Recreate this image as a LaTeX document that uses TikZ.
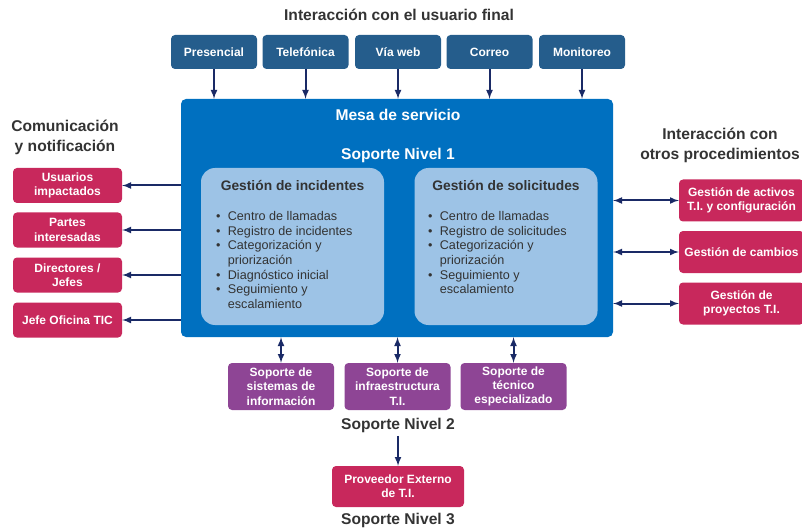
\documentclass[tikz,border=0pt]{standalone}
\usepackage{fontspec}
\setmainfont{Liberation Sans}
\usepackage{tikz}

\definecolor{chanblue}{HTML}{255D8C}
\definecolor{mesablue}{HTML}{0070C0}
\definecolor{innerblue}{HTML}{9DC3E6}
\definecolor{crimson}{HTML}{C8285C}
\definecolor{sopviolet}{HTML}{8E4595}
\definecolor{navy}{HTML}{1A2A66}
\definecolor{darktext}{HTML}{333333}

\newcommand{\vineta}[1]{\makebox[11.7pt][l]{\textbullet}#1}
\newcommand{\sigue}[1]{\hspace*{11.7pt}#1}

\tikzset{
  box/.style={rounded corners=4pt,text=white,align=center,inner sep=2pt,
    font=\bfseries\fontsize{12}{14.3}\selectfont},
  chan/.style={box,fill=chanblue,minimum width=86pt,minimum height=34pt},
  notif/.style={box,fill=crimson,minimum width=109pt,minimum height=35pt},
  proc/.style={box,fill=crimson,minimum width=125pt,minimum height=42pt},
  sop/.style={box,fill=sopviolet,minimum width=106pt,minimum height=47pt},
  prov/.style={box,fill=crimson,minimum width=132pt,minimum height=41pt},
  ttl/.style={text=darktext,align=center,font=\bfseries\fontsize{15.6}{20}\selectfont},
  inner/.style={fill=innerblue,rounded corners=14pt,minimum width=183pt,minimum height=157pt},
  head/.style={text=darktext,font=\bfseries\fontsize{13.8}{16}\selectfont},
  lista/.style={text=darktext,align=left,inner sep=0pt,anchor=north west,
    font=\fontsize{12.6}{14.7}\selectfont},
  arr/.style={draw=navy,line width=2pt,-latex},
  darr/.style={draw=navy,line width=2pt,latex-latex}
}

\begin{document}
\begin{tikzpicture}[x=1pt,y=-1pt]
  \useasboundingbox (0,0) rectangle (802,529);

  % Interaccion con el usuario final
  \node[ttl] (tusr) at (399,15) {Interacción con el usuario final};
  \node[chan] (c1) at (214,52) {Presencial};
  \node[chan] (c2) at (305.5,52) {Telefónica};
  \node[chan] (c3) at (398,52) {Vía web};
  \node[chan] (c4) at (489.5,52) {Correo};
  \node[chan] (c5) at (582,52) {Monitoreo};

  % Mesa de servicio
  \node[fill=mesablue,rounded corners=5pt,minimum width=432pt,minimum height=238pt] (mesa) at (397,218) {};
  \node[ttl,text=white] (tmesa) at (398,115) {Mesa de servicio};
  \node[ttl,text=white] (n1) at (398,155) {Soporte Nivel 1};

  \node[inner] (inc) at (292.5,246.5) {};
  \node[inner] (sol) at (506,246.5) {};
  \node[head] (tinc) at (292.5,186) {Gestión de incidentes};
  \node[head] (tsol) at (506,186) {Gestión de solicitudes};
  \node[lista] (linc) at (216,211) {\vineta{Centro de llamadas}\\
    \vineta{Registro de incidentes}\\ \vineta{Categorización y}\\
    \sigue{priorización}\\ \vineta{Diagnóstico inicial}\\
    \vineta{Seguimiento y}\\ \sigue{escalamiento}};
  \node[lista] (lsol) at (428,211) {\vineta{Centro de llamadas}\\
    \vineta{Registro de solicitudes}\\ \vineta{Categorización y}\\
    \sigue{priorización}\\ \vineta{Seguimiento y}\\ \sigue{escalamiento}};

  % Comunicacion y notificacion
  \node[ttl] (tcom) at (65,137) {Comunicación\\ y notificación};
  \node[notif] (u1) at (67.5,185.5) {Usuarios\\ impactados};
  \node[notif] (u2) at (67.5,230) {Partes\\ interesadas};
  \node[notif] (u3) at (67.5,275) {Directores /\\ Jefes};
  \node[notif] (u4) at (67.5,320) {Jefe Oficina TIC};

  % Interaccion con otros procedimientos
  \node[ttl] (tproc) at (720,145) {Interacción con\\ otros procedimientos};
  \node[proc] (p1) at (741.5,200.5) {Gestión de activos\\ T.I. y configuración};
  \node[proc] (p2) at (741.5,252) {Gestión de cambios};
  \node[proc] (p3) at (741.5,303.5) {Gestión de\\ proyectos T.I.};

  % Soporte nivel 2 y 3
  \node[sop] (s1) at (281,386.5) {Soporte de\\ sistemas de\\ información};
  \node[sop] (s2) at (397.5,386.5) {Soporte de\\ infraestructura\\ T.I.};
  \node[sop] (s3) at (513.5,386.5) {Soporte de\\ técnico\\ especializado};
  \node[ttl] (n2) at (398,425) {Soporte Nivel 2};
  \node[prov] (pe) at (398,486.5) {Proveedor Externo\\ de T.I.};
  \node[ttl] (n3) at (398,520) {Soporte Nivel 3};

  % Connectors
  \foreach \c in {c1,c2,c3,c4,c5}
    \draw[arr] (\c) -- (\c |- mesa.north);
  \foreach \u in {u1,u2,u3,u4}
    \draw[arr] (mesa.west |- \u) -- (\u);
  \foreach \p in {p1,p2,p3}
    \draw[darr] (mesa.east |- \p) -- (\p);
  \foreach \s in {s1,s2,s3}
    \draw[darr] (mesa.south -| \s) -- (\s);
  \draw[arr] (n2) -- (pe);
\end{tikzpicture}
\end{document}
